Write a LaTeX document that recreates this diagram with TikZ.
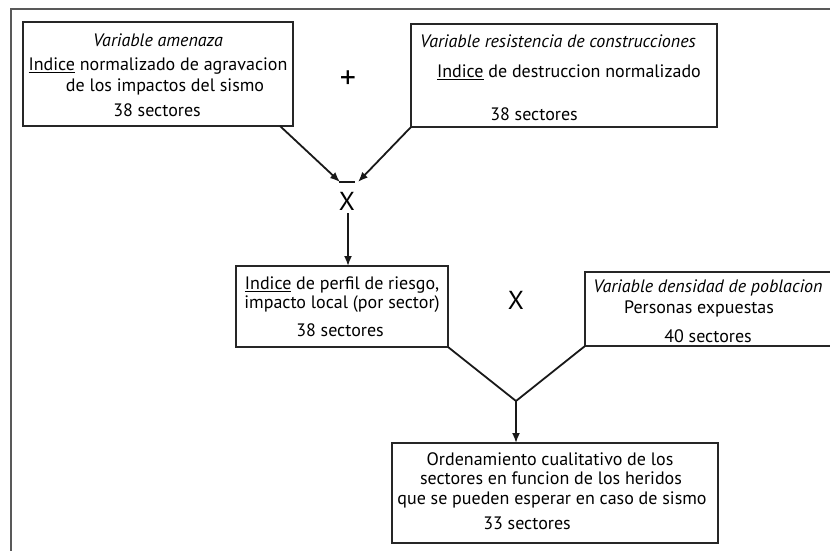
\documentclass[tikz,border=0pt]{standalone}
\usepackage{fontspec}
\setmainfont{PT Sans}
\usetikzlibrary{arrows.meta}
\begin{document}
\begin{tikzpicture}[x=1pt,y=-1pt,
  frame/.style={line width=2.2pt,draw=black!65},
  box/.style={draw=black!85,line width=1.8pt,inner sep=0pt,outer sep=0pt},
  txt/.style={inner sep=0pt,font=\fontsize{18}{20}\selectfont,text height=0.72em,text depth=0.22em},
  itx/.style={txt,font=\fontsize{18}{20}\selectfont\itshape},
  op/.style={inner sep=0pt,font=\fontsize{26}{28}\selectfont},
  con/.style={line width=1.8pt,draw=black!90},
  arr/.style={con,-{Latex[length=10pt,width=8pt]}}]
\useasboundingbox (0,0) rectangle (830,550);
\fill[white] (0,0) rectangle (830,550);
% outer frame
\coordinate (fb) at (11,552);
\coordinate (ftl) at (11,9);
\coordinate (fr) at (832,9);
\draw[frame] (fb) -- (ftl) -- (fr);
% boxes
\node[box,minimum width=270pt,minimum height=104pt] (A) at (158,74) {};
\node[box,minimum width=306pt,minimum height=103pt] (B) at (564,75.5) {};
\node[box,minimum width=212pt,minimum height=81pt] (C) at (342,306.5) {};
\node[box,minimum width=260pt,minimum height=74pt] (D) at (715,309) {};
\node[box,minimum width=326pt,minimum height=100pt] (E) at (555,493) {};
% texts A
\node[itx] (a1) at (158,44) {Variable amenaza};
\node[txt] (a2) at (158,68) {\underline{Indice} normalizado de agravacion};
\node[txt] (a3) at (165,89) {de los impactos del sismo};
\node[txt] (a4) at (157,114) {38 sectores};
% texts B
\node[itx] (b1) at (558,45) {Variable resistencia de construcciones};
\node[txt] (b2) at (569,75) {\underline{Indice} de destruccion normalizado};
\node[txt] (b3) at (534,118) {38 sectores};
% texts C
\node[txt] (c1) at (342,287) {\underline{Indice} de perfil de riesgo,};
\node[txt] (c2) at (342,306) {impacto local (por sector)};
\node[txt] (c3) at (340,334) {38 sectores};
% texts D
\node[itx] (d1) at (708,290) {Variable densidad de poblacion};
\node[txt] (d2) at (699,311) {Personas expuestas};
\node[txt] (d3) at (708,340) {40 sectores};
% texts E
\node[txt] (e1) at (550,463) {Ordenamiento cualitativo de los};
\node[txt] (e2) at (551,482) {sectores en funcion de los heridos};
\node[txt] (e3) at (552,502) {que se pueden esperar en caso de sismo};
\node[txt] (e4) at (527,527) {33 sectores};
% operators
\node[op,font=\fontsize{32}{34}\selectfont] (plus) at (348,80) {+};
\node[op] (x1) at (347,201) {X};
\node[op] (x2) at (516,300) {X};
% connectors top
\coordinate (ta) at (340,182);
\coordinate (tb) at (358,182);
\draw[arr] (A.south east) ++(-13,0) coordinate (as) -- (ta);
\draw[arr] (B.south west) -- (tb);
\draw[con,line width=1.3pt] (339,182) -- (355,182);
\draw[arr] (x1.south) ++(1,3) coordinate (xs) -- (xs |- C.north);
% V connectors
\coordinate (v) at (516,401);
\draw[con] (C.south east) -- (v) -- (D.south west);
\draw[arr] (v) -- (E.north -| v);
\end{tikzpicture}
\end{document}
